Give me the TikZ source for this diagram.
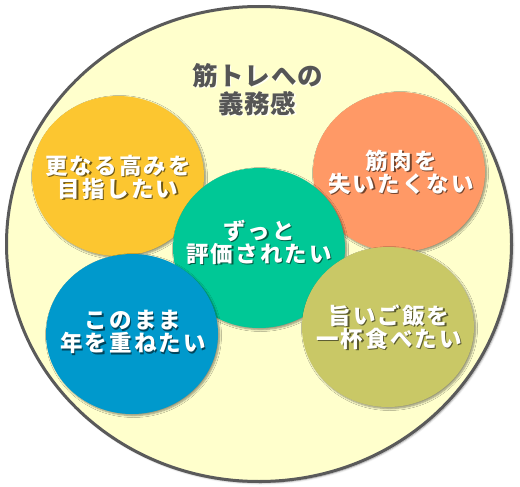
\documentclass[tikz,border=0pt]{standalone}
\usepackage{fontspec}
\usetikzlibrary{shapes.geometric,shadows.blur,calc}
\newfontfamily\jpc{Noto Sans CJK JP}[LetterSpace=9]
\newfontfamily\jpt{Noto Sans CJK JP}[LetterSpace=3]
\definecolor{bgyellow}{HTML}{FFFFCC}
\definecolor{bordergray}{HTML}{5A5A5A}
\definecolor{cyel}{HTML}{FCC630}
\definecolor{cora}{HTML}{FF9966}
\definecolor{cgrn}{HTML}{00C896}
\definecolor{cblu}{HTML}{0099CC}
\definecolor{coli}{HTML}{C9C866}
\definecolor{titlegray}{HTML}{555555}
\newcommand\shlabel[3]{%
  \node[lbl, text=black, opacity=0.55] at ($(#2)+(1.4,1.4)$) {#3};
  \node[lbl, text=white] (#1) at (#2) {#3};}
\begin{document}
\begin{tikzpicture}[x=1pt,y=-1pt,
  bubble/.style={ellipse, minimum width=172pt, minimum height=160pt, inner sep=0pt,
    blur shadow={shadow xshift=1.5pt, shadow yshift=-1.5pt, shadow opacity=45, shadow blur steps=6, shadow blur radius=2pt}},
  lbl/.style={align=center, font=\jpc\bfseries\fontsize{22.5}{23}\selectfont, inner sep=0pt},
  ttl/.style={align=center, font=\jpt\bfseries\fontsize{25.5}{28}\selectfont, inner sep=0pt},
  ]
\useasboundingbox (0,0) rectangle (520,487);
\node[ellipse, draw=bordergray, line width=3pt, fill=bgyellow, minimum width=505pt, minimum height=475pt, inner sep=0pt,
  blur shadow={shadow xshift=1.5pt, shadow yshift=-1.5pt, shadow opacity=40, shadow blur steps=6, shadow blur radius=2pt}] (outer) at (259,244) {};
\node[ttl, text=white, opacity=0.8] at (258.8,90.8) {筋トレへの\\義務感};
\node[ttl, text=titlegray] (title) at (257.5,89.5) {筋トレへの\\義務感};
\node[bubble, fill=cyel] (yel) at (118,176) {};
\node[bubble, fill=cora] (ora) at (399,172) {};
\node[bubble, fill=cgrn] (grn) at (259,248) {};
\node[bubble, fill=cblu] (blu) at (132,334) {};
\node[bubble, fill=coli] (oli) at (388,327) {};
\coordinate (pyel) at (118,177);
\coordinate (pora) at (401,172);
\coordinate (pgrn) at (259,242);
\coordinate (pblu) at (133,332);
\coordinate (poli) at (389,327);
\shlabel{tyel}{pyel}{更なる高みを\\目指したい}
\shlabel{tora}{pora}{筋肉を\\失いたくない}
\shlabel{tgrn}{pgrn}{ずっと\\評価されたい}
\shlabel{tblu}{pblu}{このまま\\年を重ねたい}
\shlabel{toli}{poli}{旨いご飯を\\一杯食べたい}
\end{tikzpicture}
\end{document}
